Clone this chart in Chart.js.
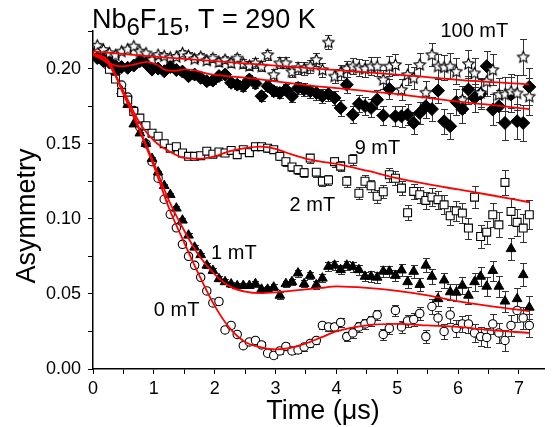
<!DOCTYPE html>
<html>
<head>
<meta charset="utf-8">
<script src="https://cdn.jsdelivr.net/npm/chart.js@4.4.1/dist/chart.umd.min.js"></script>
<style>
  html, body { margin: 0; padding: 0; background: #fff; }
</style>
</head>
<body>
<canvas id="muChart" width="552" height="427"></canvas>
<script>
// time bins (us)
const times = [0.07,0.17,0.27,0.37,0.47,0.57,0.67,0.77,0.87,0.97,
  1.07,1.17,1.27,1.37,1.47,1.57,1.67,1.77,1.87,1.97,
  2.07,2.17,2.27,2.37,2.47,2.57,2.67,2.77,2.87,2.97,
  3.07,3.17,3.27,3.37,3.47,3.57,3.67,3.77,3.87,3.97,
  4.07,4.17,4.27,4.37,4.47,4.57,4.67,4.77,4.87,4.97,
  5.07,5.17,5.27,5.37,5.47,5.57,5.67,5.77,5.87,5.97,
  6.07,6.17,6.27,6.37,6.47,6.57,6.67,6.77,6.87,6.97,
  7.07,7.17];

// asymmetry, 0 mT (open circles)
const asy0 = [0.211,0.208,0.205,0.197,0.189,0.181,0.172,0.161,0.150,0.138,
  0.127,0.113,0.103,0.094,0.083,0.075,0.069,0.061,0.052,0.044,
  0.045,0.026,0.029,0.023,0.0155,0.018,0.019,0.016,0.0105,0.009,
  0.012,0.015,0.012,0.0127,0.0147,0.017,0.019,0.029,0.028,0.028,
  0.031,0.0216,0.024,0.028,0.030,0.032,0.036,0.023,0.027,0.039,
  0.028,0.032,0.033,0.037,0.0216,0.0416,0.034,0.025,0.036,0.027,
  0.030,0.030,0.024,0.0216,0.021,0.030,0.024,0.019,0.029,0.039,
  0.034,0.029];
// 1 mT (filled triangles)
const asy1 = [0.209,0.207,0.202,0.198,0.185,0.176,0.163,0.157,0.150,0.140,
  0.131,0.122,0.116,0.107,0.099,0.089,0.081,0.076,0.069,0.0655,
  0.060,0.058,0.0565,0.0553,0.0555,0.0555,0.0567,0.053,0.053,0.0544,
  0.049,0.0567,0.058,0.0638,0.0567,0.0622,0.056,0.0604,0.0682,0.069,
  0.066,0.069,0.068,0.066,0.0616,0.0616,0.061,0.065,0.065,0.0622,
  0.0658,0.058,0.0649,0.0562,0.069,0.0616,0.0467,0.0591,0.0513,0.051,
  0.0556,0.049,0.058,0.0616,0.055,0.0655,0.055,0.0451,0.080,0.0467,
  0.0627,0.041];
// 2 mT (open squares)
const asy2 = [0.211,0.206,0.1995,0.193,0.184,0.179,0.1715,0.167,0.162,0.157,
  0.155,0.150,0.147,0.148,0.1438,0.1416,0.1416,0.142,0.145,0.143,
  0.1445,0.1438,0.1455,0.1427,0.146,0.144,0.148,0.148,0.147,0.146,
  0.1416,0.138,0.1345,0.1327,0.1307,0.1404,0.131,0.125,0.1258,0.138,
  0.135,0.125,0.1396,0.117,0.125,0.122,0.115,0.118,0.1293,0.127,
  0.1204,0.104,0.1182,0.116,0.1122,0.1144,0.1127,0.1093,0.102,0.1053,
  0.1038,0.0938,0.1144,0.0882,0.0911,0.1027,0.096,0.1242,0.1049,0.0976,
  0.0938,0.1027];
// 9 mT (filled diamonds)
const asy9 = [0.207,0.205,0.204,0.2016,0.201,0.2005,0.202,0.2049,0.2035,0.1993,
  0.200,0.1982,0.201,0.199,0.198,0.1949,0.196,0.1938,0.1916,0.192,
  0.195,0.196,0.1905,0.1893,0.1882,0.1927,0.190,0.1816,0.1882,0.1849,
  0.1838,0.186,0.1816,0.1871,0.186,0.1849,0.1838,0.1816,0.183,0.1804,
  0.1738,0.1893,0.1693,0.1765,0.175,0.1738,0.1793,0.1688,0.1864,0.1682,
  0.1682,0.1693,0.1638,0.1704,0.1749,0.173,0.1853,0.1649,0.1616,0.1778,
  0.173,0.186,0.1804,0.1833,0.2016,0.1727,0.1749,0.1638,0.1827,0.1649,
  0.1638,0.1878];
// 100 mT (open stars)
const asy100 = [0.2155,0.2127,0.2105,0.209,0.2116,0.213,0.215,0.2116,0.2104,0.206,
  0.2093,0.2085,0.2075,0.208,0.2104,0.2087,0.2065,0.208,0.2055,0.207,
  0.2045,0.206,0.2038,0.207,0.2035,0.202,0.2038,0.2016,0.2093,0.196,
  0.2038,0.2038,0.198,0.2005,0.200,0.2016,0.206,0.1993,0.2176,0.195,
  0.1975,0.200,0.2016,0.2005,0.200,0.2016,0.2016,0.1927,0.2016,0.2027,
  0.186,0.196,0.1938,0.2027,0.1842,0.2093,0.2016,0.201,0.2016,0.1982,
  0.1793,0.2033,0.1971,0.184,0.1916,0.1993,0.1827,0.183,0.1849,0.1838,
  0.2078,0.1816];

// error bars
const errZF = [0.0008,0.0008,0.0009,0.0009,0.0009,0.001,0.001,0.001,0.0011,0.0011,
  0.0011,0.0012,0.0012,0.0012,0.0013,0.0013,0.0014,0.0014,0.0015,0.0015,
  0.0016,0.0016,0.0017,0.0017,0.0018,0.0018,0.0019,0.0019,0.002,0.002,
  0.0021,0.0022,0.0022,0.0023,0.0024,0.0025,0.0025,0.0026,0.0027,0.0028,
  0.0029,0.003,0.0031,0.0032,0.0033,0.0034,0.0035,0.0036,0.0038,0.0039,
  0.004,0.0042,0.0043,0.0045,0.0046,0.0048,0.0049,0.0051,0.0053,0.0055,
  0.0056,0.0058,0.006,0.0062,0.0064,0.0066,0.0068,0.007,0.0072,0.0074,
  0.0076,0.0078];
const errTF = [0.001,0.001,0.0011,0.0011,0.0011,0.0012,0.0012,0.0012,0.0013,0.0013,
  0.0014,0.0014,0.0015,0.0015,0.0016,0.0016,0.0017,0.0017,0.0018,0.0018,
  0.0019,0.002,0.002,0.0021,0.0022,0.0022,0.0023,0.0024,0.0024,0.0025,
  0.0026,0.0027,0.0028,0.0028,0.0029,0.003,0.0031,0.0032,0.0033,0.0034,
  0.0035,0.0036,0.0038,0.0039,0.004,0.0041,0.0043,0.0044,0.0046,0.0047,
  0.0049,0.005,0.0052,0.0054,0.0056,0.0058,0.006,0.0062,0.0064,0.0066,
  0.0068,0.007,0.0072,0.0075,0.0077,0.008,0.0082,0.0085,0.0088,0.009,
  0.0093,0.0096];
const errHF = [0.0012,0.0012,0.0013,0.0013,0.0014,0.0014,0.0015,0.0015,0.0016,0.0016,
  0.0017,0.0018,0.0018,0.0019,0.002,0.002,0.0021,0.0022,0.0023,0.0024,
  0.0025,0.0026,0.0027,0.0028,0.0029,0.003,0.0031,0.0032,0.0033,0.0034,
  0.0036,0.0037,0.0038,0.004,0.0041,0.0043,0.0044,0.0046,0.0048,0.0049,
  0.0051,0.0053,0.0055,0.0057,0.0059,0.0061,0.0063,0.0065,0.0066,0.0067,
  0.0068,0.007,0.0072,0.0074,0.0076,0.0078,0.008,0.0083,0.0085,0.0088,
  0.009,0.0093,0.0096,0.0099,0.0102,0.0105,0.0108,0.0111,0.0114,0.0117,
  0.012,0.0123];

// fitted curves (red)
const fitT = [0,0.25,0.5,0.75,1,1.25,1.5,1.75,2,2.25,2.5,2.75,3,3.25,3.5,3.75,4,4.5,5,5.5,6,6.5,7.17];
const fit0 = [0.210,0.205,0.183,0.160,0.135,0.107,0.084,0.062,0.042,0.027,0.018,0.0145,0.013,0.014,0.017,0.021,0.025,0.029,0.030,0.029,0.028,0.026,0.024];
const fit1 = [0.210,0.205,0.184,0.161,0.137,0.112,0.092,0.075,0.063,0.055,0.0515,0.0505,0.051,0.052,0.053,0.054,0.055,0.054,0.052,0.049,0.045,0.042,0.0385];
const fit2 = [0.210,0.203,0.185,0.165,0.152,0.145,0.1405,0.140,0.1416,0.145,0.147,0.148,0.1465,0.143,0.140,0.138,0.1365,0.132,0.127,0.123,0.1195,0.116,0.111];
const fit9T = [0,0.15,0.3,0.45,0.6,0.75,0.9,1.05,1.2,1.35,1.5,1.7,1.9,2.2,2.6,3,3.5,4,4.5,5,5.5,6,6.5,7.17];
const fit9 = [0.209,0.206,0.203,0.2015,0.202,0.2035,0.2045,0.2025,0.199,0.1985,0.1995,0.1985,0.1965,0.195,0.1935,0.1915,0.189,0.187,0.185,0.183,0.1805,0.178,0.176,0.173];
const fit100T = [0,1,2,3,4,5,6,7.17];
const fit100 = [0.2115,0.208,0.205,0.202,0.199,0.196,0.1925,0.1895];

// field labels: [text, time, asymmetry]
const fieldLabels = [
  ['100 mT', 5.71, 0.2213],
  ['9 mT', 4.30, 0.1433],
  ['2 mT', 3.23, 0.1053],
  ['1 mT', 1.94, 0.0733],
  ['0 mT', 1.00, 0.0353]
];

const FONT = "'Liberation Sans', Arial, Helvetica, sans-serif";

function pts(xs, ys) {
  return xs.map((x, i) => ({ x: x, y: ys[i] }));
}

function starImage(r) {
  const c = document.createElement('canvas');
  const s = Math.ceil(2 * r + 3);
  c.width = s; c.height = s;
  const g = c.getContext('2d');
  g.translate(s / 2, s / 2 + 0.5);
  g.beginPath();
  for (let k = 0; k < 10; k++) {
    const rr = k % 2 === 0 ? r : r * 0.48;
    const a = -Math.PI / 2 + k * Math.PI / 5;
    if (k === 0) g.moveTo(rr * Math.cos(a), rr * Math.sin(a));
    else g.lineTo(rr * Math.cos(a), rr * Math.sin(a));
  }
  g.closePath();
  g.fillStyle = '#fff';
  g.fill();
  g.strokeStyle = '#000';
  g.lineWidth = 1.1;
  g.stroke();
  return c;
}

const errorBars = {
  id: 'errorBars',
  beforeDatasetsDraw(chart) {
    const { ctx, chartArea, scales: { x, y } } = chart;
    ctx.save();
    ctx.beginPath();
    ctx.rect(chartArea.left, chartArea.top, chartArea.right - chartArea.left, chartArea.bottom - chartArea.top);
    ctx.clip();
    ctx.strokeStyle = '#333';
    ctx.lineWidth = 1;
    chart.data.datasets.forEach(ds => {
      if (!ds.errors) return;
      ds.data.forEach((p, i) => {
        const px = Math.round(x.getPixelForValue(p.x)) + 0.5;
        const yTop = Math.round(y.getPixelForValue(p.y + ds.errors[i])) + 0.5;
        const yBot = Math.round(y.getPixelForValue(p.y - ds.errors[i])) + 0.5;
        ctx.beginPath();
        ctx.moveTo(px, yTop); ctx.lineTo(px, yBot);
        ctx.moveTo(px - 3.5, yTop); ctx.lineTo(px + 3.5, yTop);
        ctx.moveTo(px - 3.5, yBot); ctx.lineTo(px + 3.5, yBot);
        ctx.stroke();
      });
    });
    ctx.restore();
  }
};

const textLayer = {
  id: 'textLayer',
  afterDraw(chart) {
    const { ctx, chartArea, scales: { x, y } } = chart;
    ctx.save();
    ctx.fillStyle = '#000';
    ctx.textBaseline = 'alphabetic';
    ctx.textAlign = 'left';

    // title with subscripts
    const parts = [['Nb', 0], ['6', 1], ['F', 0], ['15', 1], [', T = 290 K', 0]];
    let tx = 92;
    parts.forEach(([s, sub]) => {
      ctx.font = (sub ? '24px ' : '27px ') + FONT;
      ctx.fillText(s, tx, sub ? 35 : 28);
      tx += ctx.measureText(s).width;
    });

    // field labels
    ctx.font = '20px ' + FONT;
    fieldLabels.forEach(([s, t, a]) => {
      ctx.fillText(s, x.getPixelForValue(t), y.getPixelForValue(a));
    });

    // axis titles
    ctx.font = '27px ' + FONT;
    ctx.textAlign = 'center';
    ctx.fillText('Time (\u03bcs)', 323, 419);
    ctx.translate(35, 216);
    ctx.rotate(-Math.PI / 2);
    ctx.fillText('Asymmetry', 0, 0);
    ctx.restore();
  }
};

const fitStyle = {
  type: 'line',
  borderColor: '#ff0000',
  borderWidth: 1.8,
  pointRadius: 0,
  fill: false,
  cubicInterpolationMode: 'monotone',
  order: 0
};

const data = {
  datasets: [
    Object.assign({ label: 'fit 100 mT', data: pts(fit100T, fit100) }, fitStyle),
    Object.assign({ label: 'fit 9 mT', data: pts(fit9T, fit9) }, fitStyle),
    Object.assign({ label: 'fit 2 mT', data: pts(fitT, fit2) }, fitStyle),
    Object.assign({ label: 'fit 1 mT', data: pts(fitT, fit1) }, fitStyle),
    Object.assign({ label: 'fit 0 mT', data: pts(fitT, fit0) }, fitStyle),
    {
      label: '100 mT', data: pts(times, asy100), errors: errHF, showLine: false, order: 1,
      pointStyle: starImage(6), pointRadius: 6
    },
    {
      label: '9 mT', data: pts(times, asy9), errors: errHF, showLine: false, order: 1,
      pointStyle: 'rectRot', pointRadius: 6.5, backgroundColor: '#000', borderColor: '#000', borderWidth: 1
    },
    {
      label: '2 mT', data: pts(times, asy2), errors: errTF, showLine: false, order: 1,
      pointStyle: 'rect', pointRadius: 5.6, backgroundColor: '#fff', borderColor: '#000', borderWidth: 1.1
    },
    {
      label: '1 mT', data: pts(times, asy1), errors: errZF, showLine: false, order: 1,
      pointStyle: 'triangle', pointRadius: 5.6, backgroundColor: '#000', borderColor: '#000', borderWidth: 1
    },
    {
      label: '0 mT', data: pts(times, asy0), errors: errZF, showLine: false, order: 1,
      pointStyle: 'circle', pointRadius: 4.2, backgroundColor: '#fff', borderColor: '#000', borderWidth: 1.1
    }
  ]
};

const config = {
  type: 'scatter',
  data: data,
  options: {
    responsive: false,
    animation: false,
    events: [],
    layout: { padding: { top: 31, left: 0, right: 0, bottom: 0 } },
    plugins: { legend: { display: false }, tooltip: { enabled: false } },
    scales: {
      x: {
        type: 'linear',
        min: 0,
        max: 7.42,
        afterFit: s => { s.height = 58; s.paddingLeft = 0; s.paddingRight = 0; },
        border: { color: '#000', width: 1.5 },
        grid: { drawOnChartArea: false, color: '#000', tickLength: 5, lineWidth: 1 },
        ticks: {
          stepSize: 0.5,
          autoSkip: false,
          includeBounds: false,
          maxRotation: 0,
          padding: 4,
          color: '#000',
          font: { family: FONT, size: 18 },
          callback: v => Math.abs(v - Math.round(v)) < 1e-6 ? String(Math.round(v)) : ''
        }
      },
      y: {
        type: 'linear',
        min: 0,
        max: 0.225,
        afterFit: s => { s.width = 93; s.paddingTop = 0; s.paddingBottom = 0; },
        border: { color: '#000', width: 1.5 },
        grid: { drawOnChartArea: false, color: '#000', tickLength: 5, lineWidth: 1 },
        ticks: {
          stepSize: 0.025,
          autoSkip: false,
          includeBounds: false,
          padding: 7,
          color: '#000',
          font: { family: FONT, size: 18 },
          callback: v => {
            const k = v / 0.05;
            return Math.abs(k - Math.round(k)) < 1e-6 ? v.toFixed(2) : '';
          }
        }
      }
    }
  },
  plugins: [errorBars, textLayer]
};

new Chart(document.getElementById('muChart'), config);
</script>
</body>
</html>
